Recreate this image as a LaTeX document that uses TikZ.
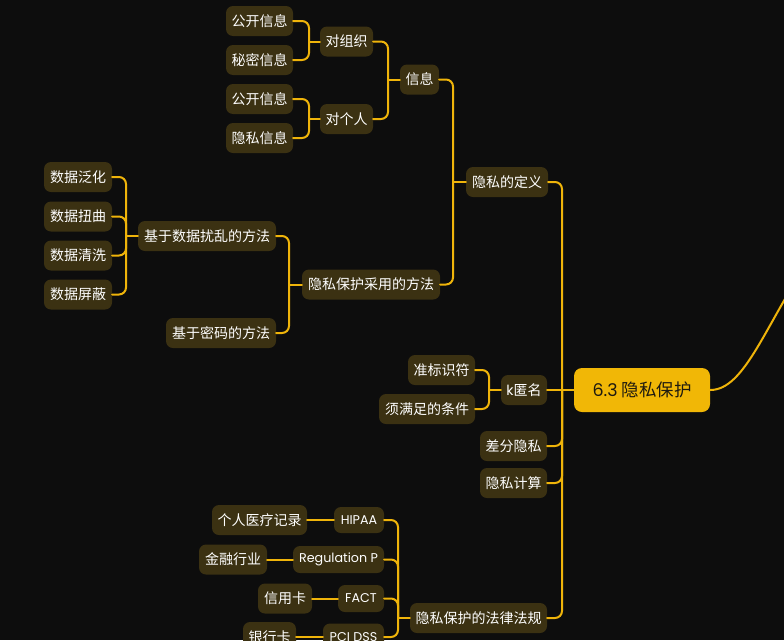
\documentclass[tikz,border=0pt]{standalone}
\usepackage{fontspec}
\setmainfont{Noto Sans CJK SC}
\newfontfamily\latf{Poppins}
\definecolor{bg}{HTML}{0D0D0D}
\definecolor{boxf}{HTML}{3B3112}
\definecolor{ln}{HTML}{EFB40A}
\definecolor{rootf}{HTML}{F1B706}
\definecolor{roott}{HTML}{1E1A10}
\begin{document}
\begin{tikzpicture}[x=1pt,y=-1pt,
  topic/.style={rectangle, rounded corners=7pt, fill=boxf, text=white, font=\fontsize{14}{16}\selectfont, minimum height=30pt, inner xsep=1pt, inner ysep=0pt},
  ltopic/.style={topic, font=\latf\fontsize{12.7}{15}\selectfont, minimum height=27pt},
  conn/.style={draw=ln, line width=2pt, rounded corners=7pt, line cap=round}]
\path[use as bounding box, fill=bg] (0,0) rectangle (784,640);
\clip (0,0) rectangle (784,640);

% nodes
\node[topic, minimum width=67pt] (gk1) at (259.5,21) {公开信息};
\node[topic, minimum width=67pt] (mm) at (259.5,60) {秘密信息};
\node[topic, minimum width=53pt] (zz) at (346.5,41.5) {对组织};
\node[topic, minimum width=67pt] (gk2) at (259.5,99) {公开信息};
\node[topic, minimum width=67pt] (ys) at (259.5,138) {隐私信息};
\node[topic, minimum width=53pt] (gr) at (346.5,119) {对个人};
\node[topic, minimum width=39pt] (xx) at (419.5,79.5) {信息};
\node[topic, minimum width=82pt] (dy) at (507,182) {隐私的定义};
\node[topic, minimum width=138pt] (ff) at (371,284.5) {隐私保护采用的方法};
\node[topic, minimum width=68pt] (fh) at (78,177) {数据泛化};
\node[topic, minimum width=68pt] (nq) at (78,216.5) {数据扭曲};
\node[topic, minimum width=68pt] (qx) at (78,255.5) {数据清洗};
\node[topic, minimum width=68pt] (pb) at (78,294.5) {数据屏蔽};
\node[topic, minimum width=138pt] (rl) at (207,236) {基于数据扰乱的方法};
\node[topic, minimum width=110pt] (mf) at (221,333) {基于密码的方法};
\node[topic, minimum width=67pt] (bz) at (441.5,370) {准标识符};
\node[topic, minimum width=96pt] (tj) at (427,409) {须满足的条件};
\node[topic, minimum width=46pt] (kn) at (524,390) {{\latf k}匿名};
\node[topic, minimum width=67pt] (cf) at (513.5,446) {差分隐私};
\node[topic, minimum width=67pt] (js) at (513.5,483) {隐私计算};
\node[rectangle, rounded corners=8pt, fill=rootf, text=roott, minimum width=136pt, minimum height=44pt, inner sep=1pt, font=\fontsize{17.5}{20}\selectfont] (root) at (642,390) {{\latf 6.3} 隐私保护};
\node[topic, minimum width=137pt] (fg) at (478.5,618) {隐私保护的法律法规};
\node[ltopic, minimum width=50pt, minimum height=26pt] (hipaa) at (359,520) {HIPAA};
\node[topic, minimum width=95pt] (yl) at (259.5,520) {个人医疗记录};
\node[ltopic, minimum width=91pt] (regp) at (338.5,559.5) {Regulation P};
\node[topic, minimum width=68pt] (jr) at (233,559.5) {金融行业};
\node[ltopic, minimum width=46pt] (fact) at (361,598.5) {FACT};
\node[topic, minimum width=54pt] (xyk) at (285,598.5) {信用卡};
\node[ltopic, minimum width=61pt] (pci) at (353.5,637) {PCI DSS};
\node[topic, minimum width=53pt] (yhk) at (269.5,637) {银行卡};

% junctions
\coordinate (j1) at (309,41.5);
\coordinate (j2) at (309,119);
\coordinate (j3) at (388,79.5);
\coordinate (j4) at (453,182);
\coordinate (j5) at (126,236);
\coordinate (j6) at (289,284.5);
\coordinate (j7) at (489,390);
\coordinate (j8) at (562,390);
\coordinate (j9) at (398,618);
\coordinate (far) at (812,255);

% connectors
\draw[conn] (gk1.east) -| (j1);
\draw[conn] (mm.east) -| (j1);
\draw[conn] (j1) -- (zz.west);
\draw[conn] (gk2.east) -| (j2);
\draw[conn] (ys.east) -| (j2);
\draw[conn] (j2) -- (gr.west);
\draw[conn] (zz.east) -| (j3);
\draw[conn] (gr.east) -| (j3);
\draw[conn] (j3) -- (xx.west);
\draw[conn] (xx.east) -| (j4);
\draw[conn] (ff.east) -| (j4);
\draw[conn] (j4) -- (dy.west);
\draw[conn] (fh.east) -| (j5);
\draw[conn] (nq.east) -| (j5);
\draw[conn] (qx.east) -| (j5);
\draw[conn] (pb.east) -| (j5);
\draw[conn] (j5) -- (rl.west);
\draw[conn] (rl.east) -| (j6);
\draw[conn] (mf.east) -| (j6);
\draw[conn] (j6) -- (ff.west);
\draw[conn] (bz.east) -| (j7);
\draw[conn] (tj.east) -| (j7);
\draw[conn] (j7) -- (kn.west);
\draw[conn] (dy.east) -| (j8);
\draw[conn] (kn.east) -- (j8);
\draw[conn] (cf.east) -| (j8);
\draw[conn] (js.east) -| (j8);
\draw[conn] (fg.east) -| (j8);
\draw[conn] (j8) -- (root.west);
\draw[conn] (hipaa.east) -| (j9);
\draw[conn] (regp.east) -| (j9);
\draw[conn] (fact.east) -| (j9);
\draw[conn] (pci.east) -| (j9);
\draw[conn] (j9) -- (fg.west);
\draw[conn] (yl.east) -- (hipaa.west);
\draw[conn] (jr.east) -- (regp.west);
\draw[conn] (xyk.east) -- (fact.west);
\draw[conn] (yhk.east) -- (pci.west);
\draw[conn] (root.east) .. controls (745,390) and (765,325) .. (far);
\end{tikzpicture}
\end{document}
